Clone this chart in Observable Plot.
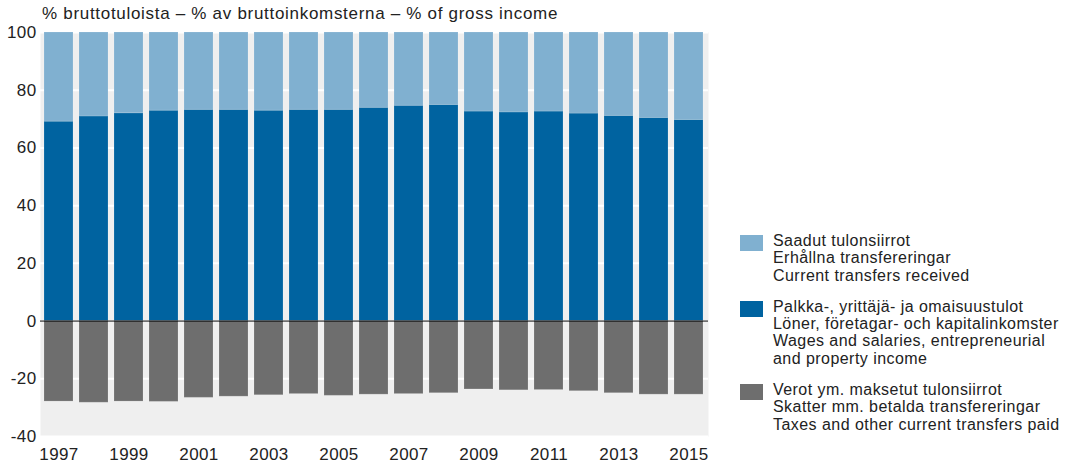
<!DOCTYPE html>
<html>
<head>
<meta charset="utf-8">
<script src="https://cdn.jsdelivr.net/npm/d3@7"></script>
<script src="https://cdn.jsdelivr.net/npm/@observablehq/plot@0.6"></script>
<style>
  html, body { margin: 0; padding: 0; background: #fff; }
  body { font-family: "Liberation Sans", Arial, sans-serif; color: #222; }
  #wrap { position: relative; width: 1068px; height: 463px; }
  #title { position: absolute; left: 42px; top: 4px; font-size: 17px; letter-spacing: 0.7px; white-space: nowrap; }
  #legend { position: absolute; left: 740px; top: 232px; font-size: 16px; letter-spacing: 0.45px; line-height: 17.3px; white-space: nowrap; }
  .item { position: relative; padding-left: 33px; margin-bottom: 14px; }
  .sw { position: absolute; left: 0; top: 3px; width: 23px; height: 16px; }
  svg text { letter-spacing: 0.4px; }
</style>
</head>
<body>
<div id="wrap">
  <div id="chart"></div>
  <div id="title">% bruttotuloista – % av bruttoinkomsterna – % of gross income</div>
  <div id="legend"></div>
</div>
<script>
const years = [1997,1998,1999,2000,2001,2002,2003,2004,2005,2006,2007,2008,2009,2010,2011,2012,2013,2014,2015];
const wages = [69.1,70.9,72.0,72.9,73.2,73.2,72.9,73.2,73.2,73.9,74.6,74.9,72.6,72.3,72.6,71.9,71.1,70.4,69.7];
const transfersReceived = [30.9,29.1,28.0,27.1,26.8,26.8,27.1,26.8,26.8,26.1,25.4,25.1,27.4,27.7,27.4,28.1,28.9,29.6,30.3];
const taxesPaid = [-27.9,-28.3,-27.9,-28.0,-26.6,-26.2,-25.7,-25.3,-25.9,-25.5,-25.3,-25.0,-23.7,-24.0,-23.9,-24.3,-25.0,-25.5,-25.5];
const yTicks = [-40,-20,0,20,40,60,80,100];
const xTickYears = [1997,1999,2001,2003,2005,2007,2009,2011,2013,2015];

const seriesNames = ["wages", "received", "taxes"];
const seriesColors = ["#0063a0", "#80b0d0", "#6e6e6e"];
const legendLabels = [
  ["Saadut tulonsiirrot", "Erhållna transfereringar", "Current transfers received"],
  ["Palkka-, yrittäjä- ja omaisuustulot", "Löner, företagar- och kapitalinkomster", "Wages and salaries, entrepreneurial", "and property income"],
  ["Verot ym. maksetut tulonsiirrot", "Skatter mm. betalda transfereringar", "Taxes and other current transfers paid"]
];
const legendSeries = ["received", "wages", "taxes"];

const data = [];
years.forEach((yr, i) => {
  data.push({year: yr, series: "wages", value: wages[i]});
  data.push({year: yr, series: "received", value: transfersReceived[i]});
  data.push({year: yr, series: "taxes", value: taxesPaid[i]});
});

const chart = Plot.plot({
  width: 1068,
  height: 463,
  marginTop: 32,
  marginBottom: 27,
  marginLeft: 40,
  marginRight: 360,
  style: {fontFamily: "Liberation Sans, Arial, sans-serif", fontSize: "17px", color: "#222", background: "transparent"},
  x: {type: "band", domain: years, paddingInner: 0.167, paddingOuter: 0.08, label: null},
  y: {domain: [-40, 100], label: null},
  color: {domain: seriesNames, range: seriesColors},
  marks: [
    Plot.frame({fill: "#efefef", stroke: null}),
    Plot.gridY(yTicks, {stroke: "white", strokeOpacity: 1, strokeWidth: 2}),
    Plot.barY(data, {x: "year", y: "value", fill: "series", order: seriesNames, stroke: "white", strokeOpacity: 0.15, strokeWidth: 1}),
    Plot.ruleY([0], {stroke: "black", strokeWidth: 1}),
    Plot.axisY(yTicks, {tickSize: 0, tickPadding: 4, label: null, fill: "#222", tickFormat: d => String(d)}),
    Plot.axisX(xTickYears, {tickSize: 0, tickPadding: 11, label: null, tickFormat: d => String(d), fill: "#222"})
  ]
});
document.getElementById("chart").appendChild(chart);

const legend = document.getElementById("legend");
legendSeries.forEach((s, i) => {
  const item = document.createElement("div");
  item.className = "item";
  const sw = document.createElement("div");
  sw.className = "sw";
  sw.style.background = seriesColors[seriesNames.indexOf(s)];
  item.appendChild(sw);
  legendLabels[i].forEach(t => {
    const line = document.createElement("div");
    line.textContent = t;
    item.appendChild(line);
  });
  legend.appendChild(item);
});
</script>
</body>
</html>
